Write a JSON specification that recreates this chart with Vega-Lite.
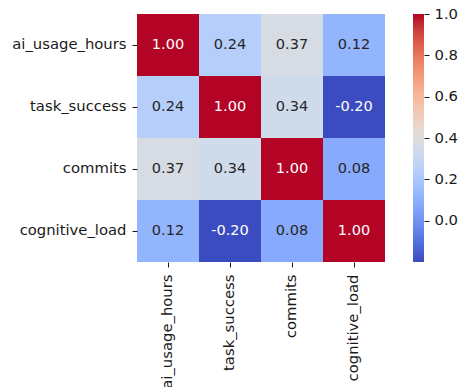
{
  "$schema": "https://vega.github.io/schema/vega-lite/v6.json",
  "padding": {"left": 11, "top": 6, "right": 0, "bottom": 0},
  "spacing": 28,
  "config": {
    "view": {"stroke": null},
    "font": "DejaVu Sans",
    "axis": {
      "labelFont": "DejaVu Sans",
      "labelFontSize": 14.8,
      "labelColor": "#1a1a1a",
      "tickColor": "#1a1a1a",
      "tickSize": 5,
      "labelPadding": 6,
      "domain": false,
      "grid": false,
      "title": null
    }
  },
  "datasets": {
    "corr": [
      {"row": "ai_usage_hours", "col": "ai_usage_hours", "value": 1.00},
      {"row": "ai_usage_hours", "col": "task_success", "value": 0.24},
      {"row": "ai_usage_hours", "col": "commits", "value": 0.37},
      {"row": "ai_usage_hours", "col": "cognitive_load", "value": 0.12},
      {"row": "task_success", "col": "ai_usage_hours", "value": 0.24},
      {"row": "task_success", "col": "task_success", "value": 1.00},
      {"row": "task_success", "col": "commits", "value": 0.34},
      {"row": "task_success", "col": "cognitive_load", "value": -0.20},
      {"row": "commits", "col": "ai_usage_hours", "value": 0.37},
      {"row": "commits", "col": "task_success", "value": 0.34},
      {"row": "commits", "col": "commits", "value": 1.00},
      {"row": "commits", "col": "cognitive_load", "value": 0.08},
      {"row": "cognitive_load", "col": "ai_usage_hours", "value": 0.12},
      {"row": "cognitive_load", "col": "task_success", "value": -0.20},
      {"row": "cognitive_load", "col": "commits", "value": 0.08},
      {"row": "cognitive_load", "col": "cognitive_load", "value": 1.00}
    ],
    "colorbar": [{"lo": -0.2, "hi": 1.0}]
  },
  "hconcat": [
    {
      "width": 248,
      "height": 248,
      "data": {"name": "corr"},
      "encoding": {
        "x": {
          "field": "col", "type": "nominal",
          "sort": ["ai_usage_hours", "task_success", "commits", "cognitive_load"],
          "axis": {"labelAngle": -90, "labelAlign": "right", "labelBaseline": "middle", "labelPadding": 7}
        },
        "y": {
          "field": "row", "type": "nominal",
          "sort": ["ai_usage_hours", "task_success", "commits", "cognitive_load"]
        }
      },
      "layer": [
        {
          "mark": {"type": "rect"},
          "encoding": {
            "color": {
              "field": "value", "type": "quantitative", "legend": null,
              "scale": {
                "domain": [-0.2, -0.125, -0.05, 0.025, 0.1, 0.175, 0.25, 0.325, 0.4, 0.475, 0.55, 0.625, 0.7, 0.775, 0.85, 0.925, 1.0],
                "range": ["#3b4cc0", "#4d68d7", "#6282ea", "#779af7", "#8db0fe", "#a3c2ff", "#b8d0f9", "#ccd9ee", "#dddddd", "#ecd3c5", "#f5c4ad", "#f7b194", "#f49a7b", "#ec7f63", "#de604d", "#cb3e38", "#b40426"],
                "interpolate": "rgb"
              }
            }
          }
        },
        {
          "mark": {
            "type": "text", "font": "DejaVu Sans", "fontSize": 14.5,
            "text": {"expr": "replace(format(datum.value, '.2f'), '\u2212', '-')"}
          },
          "encoding": {
            "color": {
              "condition": {"test": "datum.value > 0.9 || datum.value < -0.1", "value": "#ffffff"},
              "value": "#262626"
            }
          }
        }
      ]
    },
    {
      "width": 11,
      "height": 248,
      "data": {"name": "colorbar"},
      "mark": {"type": "rect"},
      "encoding": {
        "y": {
          "field": "lo", "type": "quantitative",
          "scale": {"domain": [-0.2, 1.0], "nice": false, "zero": false},
          "axis": {"orient": "right", "values": [0, 0.2, 0.4, 0.6, 0.8, 1.0], "format": ".1f", "labelPadding": 5}
        },
        "y2": {"field": "hi"},
        "color": {
          "value": {
            "gradient": "linear", "x1": 0, "y1": 1, "x2": 0, "y2": 0,
            "stops": [
              {"offset": 0, "color": "#3b4cc0"},
              {"offset": 0.0625, "color": "#4d68d7"},
              {"offset": 0.125, "color": "#6282ea"},
              {"offset": 0.1875, "color": "#779af7"},
              {"offset": 0.25, "color": "#8db0fe"},
              {"offset": 0.3125, "color": "#a3c2ff"},
              {"offset": 0.375, "color": "#b8d0f9"},
              {"offset": 0.4375, "color": "#ccd9ee"},
              {"offset": 0.5, "color": "#dddddd"},
              {"offset": 0.5625, "color": "#ecd3c5"},
              {"offset": 0.625, "color": "#f5c4ad"},
              {"offset": 0.6875, "color": "#f7b194"},
              {"offset": 0.75, "color": "#f49a7b"},
              {"offset": 0.8125, "color": "#ec7f63"},
              {"offset": 0.875, "color": "#de604d"},
              {"offset": 0.9375, "color": "#cb3e38"},
              {"offset": 1, "color": "#b40426"}
            ]
          }
        }
      }
    }
  ]
}
